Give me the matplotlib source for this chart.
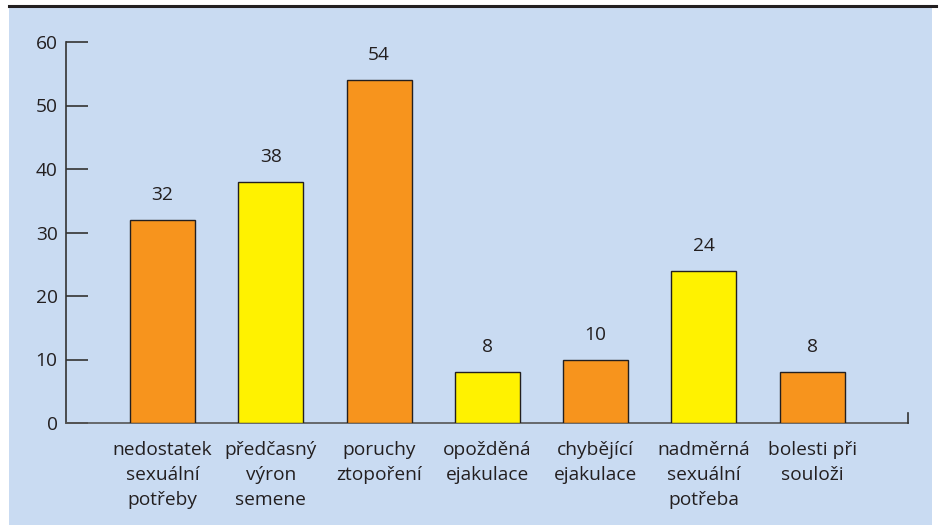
import matplotlib
matplotlib.use("Agg")
import matplotlib.pyplot as plt
from matplotlib.patches import Rectangle
from matplotlib.lines import Line2D

categories = ["nedostatek\nsexuální\npotřeby", "předčasný\nvýron\nsemene", "poruchy\nztopoření",
              "opožděná\nejakulace", "chybějící\nejakulace", "nadměrná\nsexuální\npotřeba",
              "bolesti při\nsouloži"]
values = [32, 38, 54, 8, 10, 24, 8]
colors = ["#F7941D", "#FFF200", "#F7941D", "#FFF200", "#F7941D", "#FFF200", "#F7941D"]
yticks = [0, 10, 20, 30, 40, 50, 60]

W, H = 939, 525
plt.rcParams['font.family'] = ['Open Sans', 'DejaVu Sans']
fig = plt.figure(figsize=(W/100, H/100), dpi=100)
fig.patch.set_facecolor("white")

# background panel
fig.add_artist(Rectangle((9/W, 0), (932-9)/W, 1-8/H, transform=fig.transFigure,
                         facecolor="#C9DBF2", edgecolor="none", zorder=0))
fig.add_artist(Line2D([9/W, 936/W], [1-6/H, 1-6/H], transform=fig.transFigure,
                      color="#231F20", linewidth=2.2, zorder=1))

ax_l, ax_r, ax_t, ax_b = 66, 908, 42, 423
ax = fig.add_axes([ax_l/W, 1-ax_b/H, (ax_r-ax_l)/W, (ax_b-ax_t)/H])
ax.patch.set_visible(False)

txt = "#231F20"
fs = 13.8
x = list(range(len(values)))
ax.bar(x, values, width=0.6, color=colors, edgecolor="#231F20", linewidth=1.0, zorder=3)
for xi, v in zip(x, values):
    ax.annotate(str(v), (xi, v), xytext=(0, 18), textcoords="offset points",
                ha="center", va="center", fontsize=fs, color=txt)

ax.set_xlim(-0.891, 6.884)
ax.set_ylim(0, 60)
ax.set_yticks(yticks)
ax.set_yticklabels([str(t) for t in yticks], fontsize=fs, color=txt)
ax.tick_params(axis="y", direction="in", length=15.5, width=1.2, color="#333333", pad=6)
ax.set_xticks(x)
ax.set_xticklabels(categories, fontsize=fs, color=txt, linespacing=1.5, va="top")
ax.tick_params(axis="x", length=0, pad=13)

for s in ["top", "right"]:
    ax.spines[s].set_visible(False)
ax.spines["left"].set_color("#333333")
ax.spines["bottom"].set_color("#555555")
ax.spines["left"].set_linewidth(1.2)
ax.spines["bottom"].set_linewidth(1.2)
# right-end small tick
ax.plot([6.884, 6.884], [0, 1.5], color="#333333", linewidth=1.2, clip_on=False, zorder=4)

fig.savefig("out.png", dpi=100)
